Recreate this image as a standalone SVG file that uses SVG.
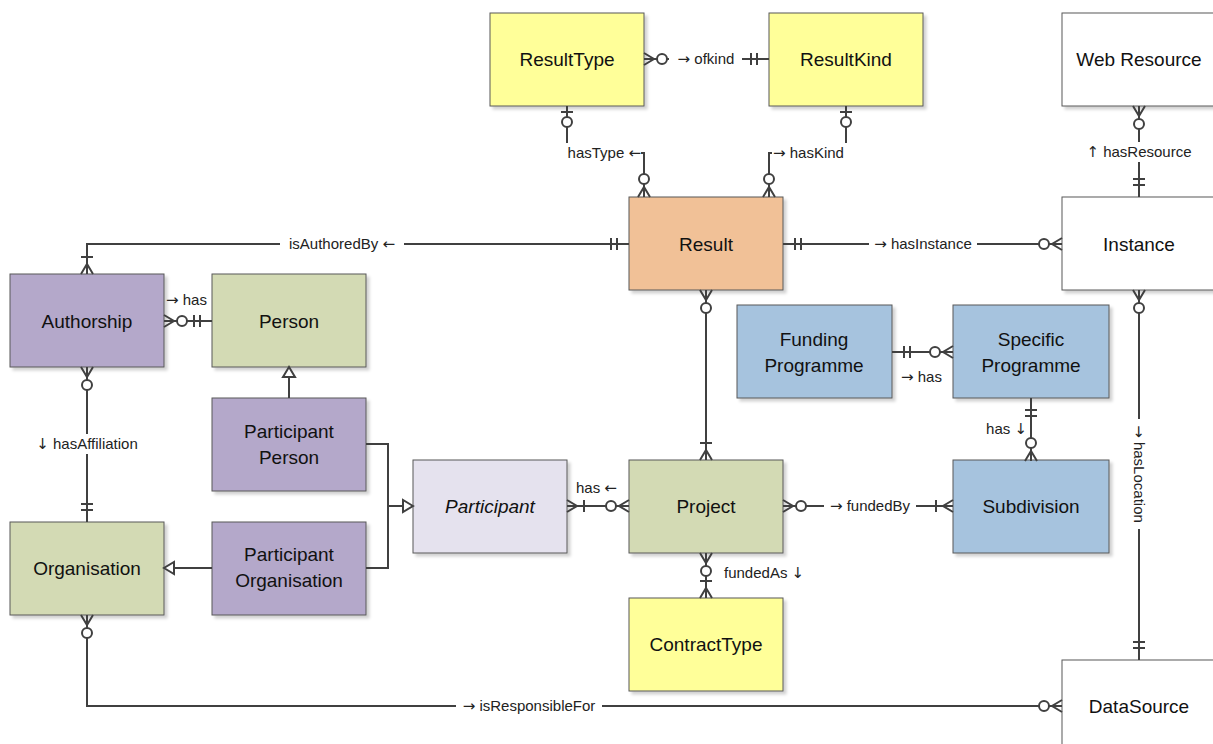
<svg xmlns="http://www.w3.org/2000/svg" width="1213" height="744" viewBox="0 0 1213 744">
<style>
.box{stroke:#595959;stroke-width:1;filter:url(#sh)}
.y{fill:#FFFF99}.o{fill:#F1C197}.p{fill:#B4A8CA}.g{fill:#D3DAB4}.l{fill:#E5E2EE}.b{fill:#A6C3DE}.w{fill:#FFFFFF}
.t{font-family:"Liberation Sans",Arial,sans-serif;font-size:19px;fill:#111;text-anchor:middle}
.lb{font-family:"Liberation Sans",Arial,sans-serif;font-size:15px;fill:#222}
.ar{font-family:"DejaVu Sans",sans-serif;font-size:15px}
.c{fill:none;stroke:#404040;stroke-width:2}
.m{fill:none;stroke:#404040;stroke-width:2}
.mc{fill:#fff;stroke:#404040;stroke-width:2}
.bg{fill:#fff}
</style>
<defs>
<filter id="sh" x="-10%" y="-10%" width="130%" height="130%">
<feDropShadow dx="3" dy="3" stdDeviation="1.5" flood-color="#000" flood-opacity="0.18"/>
</filter>
<marker id="zm" markerUnits="userSpaceOnUse" viewBox="-30 -10 32 20" markerWidth="32" markerHeight="20" refX="0" refY="0" orient="auto-start-reverse" overflow="visible">
<path class="m" d="M0,-6 L-10,0 L0,6 M0,0 H-10"/><circle class="mc" cx="-18" cy="0" r="5"/>
</marker>
<marker id="om" markerUnits="userSpaceOnUse" viewBox="-30 -10 32 20" markerWidth="32" markerHeight="20" refX="0" refY="0" orient="auto-start-reverse" overflow="visible">
<path class="m" d="M0,-6 L-10,0 L0,6 M0,0 H-10 M-17,-6 V6"/>
</marker>
<marker id="oo" markerUnits="userSpaceOnUse" viewBox="-30 -10 32 20" markerWidth="32" markerHeight="20" refX="0" refY="0" orient="auto-start-reverse" overflow="visible">
<path class="m" d="M-12,-6 V6 M-18,-6 V6"/>
</marker>
<marker id="zo" markerUnits="userSpaceOnUse" viewBox="-30 -10 32 20" markerWidth="32" markerHeight="20" refX="0" refY="0" orient="auto-start-reverse" overflow="visible">
<path class="m" d="M-6,-6 V6"/><circle class="mc" cx="-16" cy="0" r="5"/>
</marker>
<marker id="tri" markerUnits="userSpaceOnUse" viewBox="-30 -10 32 20" markerWidth="32" markerHeight="20" refX="0" refY="0" orient="auto-start-reverse" overflow="visible">
<path class="mc" d="M0,0 L-10,-6 L-10,6 Z"/>
</marker>
</defs>
<rect width="1213" height="744" fill="#fff"/>

<g id="nodes">
<g id="ResultType"><rect class="box y" x="490" y="13" width="154" height="93"/><text class="t" x="567" y="66">ResultType</text></g>
<g id="ResultKind"><rect class="box y" x="769" y="13" width="154" height="93"/><text class="t" x="846" y="66">ResultKind</text></g>
<g id="WebResource"><rect class="box w" x="1062" y="13" width="154" height="93"/><text class="t" x="1139" y="66">Web Resource</text></g>
<g id="Result"><rect class="box o" x="629" y="197" width="154" height="93"/><text class="t" x="706" y="251">Result</text></g>
<g id="Instance"><rect class="box w" x="1062" y="197" width="154" height="93"/><text class="t" x="1139" y="251">Instance</text></g>
<g id="Authorship"><rect class="box p" x="10" y="274" width="154" height="93"/><text class="t" x="87" y="328">Authorship</text></g>
<g id="Person"><rect class="box g" x="212" y="274" width="154" height="93"/><text class="t" x="289" y="328">Person</text></g>
<g id="FundingProgramme"><rect class="box b" x="737" y="305" width="155" height="93"/><text class="t" x="814" y="346">Funding</text><text class="t" x="814" y="372">Programme</text></g>
<g id="SpecificProgramme"><rect class="box b" x="953" y="305" width="156" height="93"/><text class="t" x="1031" y="346">Specific</text><text class="t" x="1031" y="372">Programme</text></g>
<g id="ParticipantPerson"><rect class="box p" x="212" y="398" width="154" height="93"/><text class="t" x="289" y="438">Participant</text><text class="t" x="289" y="464">Person</text></g>
<g id="Participant"><rect class="box l" x="413" y="460" width="154" height="93"/><text class="t" x="490" y="513" font-style="italic">Participant</text></g>
<g id="Project"><rect class="box g" x="629" y="460" width="154" height="93"/><text class="t" x="706" y="513">Project</text></g>
<g id="Subdivision"><rect class="box b" x="953" y="460" width="156" height="93"/><text class="t" x="1031" y="513">Subdivision</text></g>
<g id="Organisation"><rect class="box g" x="10" y="522" width="154" height="93"/><text class="t" x="87" y="575">Organisation</text></g>
<g id="ParticipantOrganisation"><rect class="box p" x="212" y="522" width="154" height="93"/><text class="t" x="289" y="561">Participant</text><text class="t" x="289" y="587">Organisation</text></g>
<g id="ContractType"><rect class="box y" x="629" y="598" width="154" height="93"/><text class="t" x="706" y="651">ContractType</text></g>
<g id="DataSource"><rect class="box w" x="1062" y="660" width="154" height="93"/><text class="t" x="1139" y="713">DataSource</text></g>
</g>

<g id="connectors">
<path class="c" d="M644,59 H769" marker-start="url(#zm)" marker-end="url(#oo)"/>
<rect class="bg" x="669" y="50" width="73" height="18"/><text class="lb" x="706" y="64" text-anchor="middle"><tspan class="ar">→</tspan> ofkind</text>

<path class="c" d="M567,106 V153 H644 V197" marker-start="url(#zo)" marker-end="url(#zm)"/>
<rect class="bg" x="560" y="143" width="81" height="20"/><text class="lb" x="641" y="158" text-anchor="end">hasType <tspan class="ar">←</tspan></text>

<path class="c" d="M846,106 V153 H769 V197" marker-start="url(#zo)" marker-end="url(#zm)"/>
<rect class="bg" x="772" y="143" width="82" height="20"/><text class="lb" x="773" y="158"><tspan class="ar">→</tspan> hasKind</text>

<path class="c" d="M629,244 H87 V274" marker-start="url(#oo)" marker-end="url(#om)"/>
<rect class="bg" x="280" y="235" width="124" height="18"/><text class="lb" x="342" y="249" text-anchor="middle">isAuthoredBy <tspan class="ar">←</tspan></text>

<path class="c" d="M783,244 H1062" marker-start="url(#oo)" marker-end="url(#zm)"/>
<rect class="bg" x="869" y="235" width="108" height="18"/><text class="lb" x="923" y="249" text-anchor="middle"><tspan class="ar">→</tspan> hasInstance</text>

<path class="c" d="M1139,106 V197" marker-start="url(#zm)" marker-end="url(#oo)"/>
<rect class="bg" x="1083" y="142" width="113" height="20"/><text class="lb" x="1139" y="157" text-anchor="middle"><tspan class="ar">↑</tspan> hasResource</text>

<path class="c" d="M1139,290 V660" marker-start="url(#zm)" marker-end="url(#oo)"/>
<g transform="translate(1139,474) rotate(90)"><rect class="bg" x="-55" y="-10" width="110" height="20"/><text class="lb" x="0" y="5" text-anchor="middle"><tspan class="ar">→</tspan> hasLocation</text></g>

<path class="c" d="M706,290 V460" marker-start="url(#zm)" marker-end="url(#om)"/>

<path class="c" d="M164,321 H212" marker-start="url(#zm)" marker-end="url(#oo)"/>
<text class="lb" x="166" y="305"><tspan class="ar">→</tspan> has</text>

<path class="c" d="M87,367 V522" marker-start="url(#zm)" marker-end="url(#oo)"/>
<rect class="bg" x="28" y="434" width="118" height="20"/><text class="lb" x="87" y="449" text-anchor="middle"><tspan class="ar">↓</tspan> hasAffiliation</text>

<path class="c" d="M289,398 V367" marker-end="url(#tri)"/>
<path class="c" d="M212,568 H164" marker-end="url(#tri)"/>
<path class="c" d="M366,444 H388 V506 H413" marker-end="url(#tri)"/>
<path class="c" d="M366,568 H388 V506"/>

<path class="c" d="M567,506 H629" marker-start="url(#om)" marker-end="url(#zm)"/>
<text class="lb" x="576" y="493">has <tspan class="ar">←</tspan></text>

<path class="c" d="M783,506 H953" marker-start="url(#zm)" marker-end="url(#om)"/>
<rect class="bg" x="824" y="497" width="92" height="18"/><text class="lb" x="870" y="511" text-anchor="middle"><tspan class="ar">→</tspan> fundedBy</text>

<path class="c" d="M892,352 H953" marker-start="url(#oo)" marker-end="url(#zm)"/>
<text class="lb" x="901" y="382"><tspan class="ar">→</tspan> has</text>

<path class="c" d="M1031,398 V461" marker-start="url(#oo)" marker-end="url(#zm)"/>
<text class="lb" x="1027" y="434" text-anchor="end">has <tspan class="ar">↓</tspan></text>

<path class="c" d="M706,553 V598" marker-start="url(#zm)" marker-end="url(#om)"/>
<text class="lb" x="724" y="578">fundedAs <tspan class="ar">↓</tspan></text>

<path class="c" d="M87,615 V706 H1062" marker-start="url(#zm)" marker-end="url(#zm)"/>
<rect class="bg" x="456" y="697" width="146" height="18"/><text class="lb" x="529" y="711" text-anchor="middle"><tspan class="ar">→</tspan> isResponsibleFor</text>
</g>
</svg>
